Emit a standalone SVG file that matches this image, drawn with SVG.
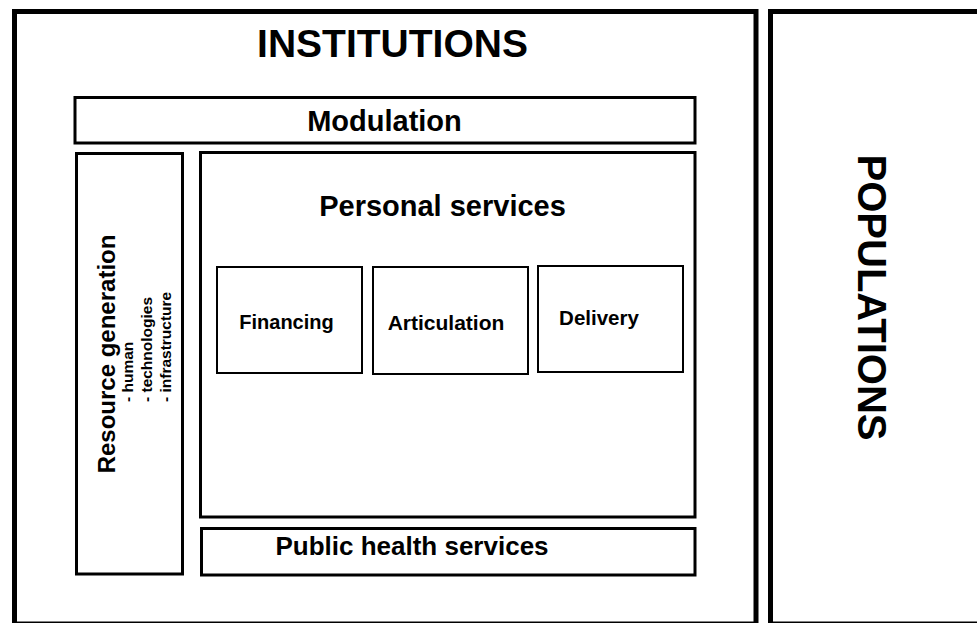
<svg xmlns="http://www.w3.org/2000/svg" width="977" height="623" viewBox="0 0 977 623">
  <style>
    .frame { fill: none; stroke: #000; stroke-width: 5; }
    .box { fill: none; stroke: #000; stroke-width: 3; }
    .sub { fill: none; stroke: #000; stroke-width: 2; }
    text { font-family: "Liberation Sans", Arial, Helvetica, sans-serif; font-weight: bold; fill: #000; }
    .mid { text-anchor: middle; }
  </style>
  <rect width="977" height="623" fill="#fff"/>

  <!-- Institutions frame -->
  <g id="institutions">
    <rect class="frame" x="14.5" y="11.5" width="741.5" height="612.5"/>
    <text class="mid" x="392.5" y="57" font-size="39">INSTITUTIONS</text>
  </g>

  <!-- Populations frame -->
  <g id="populations">
    <rect class="frame" x="770.5" y="11.5" width="220" height="612.5" stroke-width="6"/>
    <text class="mid" font-size="40" transform="translate(858 297.5) rotate(90)">POPULATIONS</text>
  </g>

  <g id="modulation">
    <rect class="box" x="75" y="97.5" width="620" height="45.5"/>
    <text class="mid" x="384.5" y="131" font-size="29">Modulation</text>
  </g>

  <g id="resource-generation">
    <rect class="box" x="76.5" y="153.5" width="106" height="420.5"/>
    <text class="mid" font-size="24" transform="translate(115 354) rotate(-90)">Resource generation</text>
    <text font-size="15.5" transform="translate(133 402) rotate(-90)">- human</text>
    <text font-size="15.5" transform="translate(152 402) rotate(-90)">- technologies</text>
    <text font-size="15.5" transform="translate(171 402) rotate(-90)">- infrastructure</text>
  </g>

  <g id="personal-services">
    <rect class="box" x="200.5" y="152.5" width="494.5" height="364.5" stroke-width="3.5"/>
    <text class="mid" x="442.5" y="216" font-size="29">Personal services</text>
  </g>

  <g id="financing">
    <rect class="sub" x="217" y="267" width="145" height="106"/>
    <text class="mid" x="286.5" y="329" font-size="20">Financing</text>
  </g>

  <g id="articulation">
    <rect class="sub" x="373" y="267" width="155" height="107"/>
    <text class="mid" x="446" y="330" font-size="21">Articulation</text>
  </g>

  <g id="delivery">
    <rect class="sub" x="538" y="266" width="145" height="106"/>
    <text class="mid" x="599" y="325" font-size="20.5">Delivery</text>
  </g>

  <g id="public-health-services">
    <rect class="box" x="201.5" y="528.5" width="493.5" height="46.5"/>
    <text class="mid" x="412" y="555" font-size="26">Public health services</text>
  </g>
</svg>
